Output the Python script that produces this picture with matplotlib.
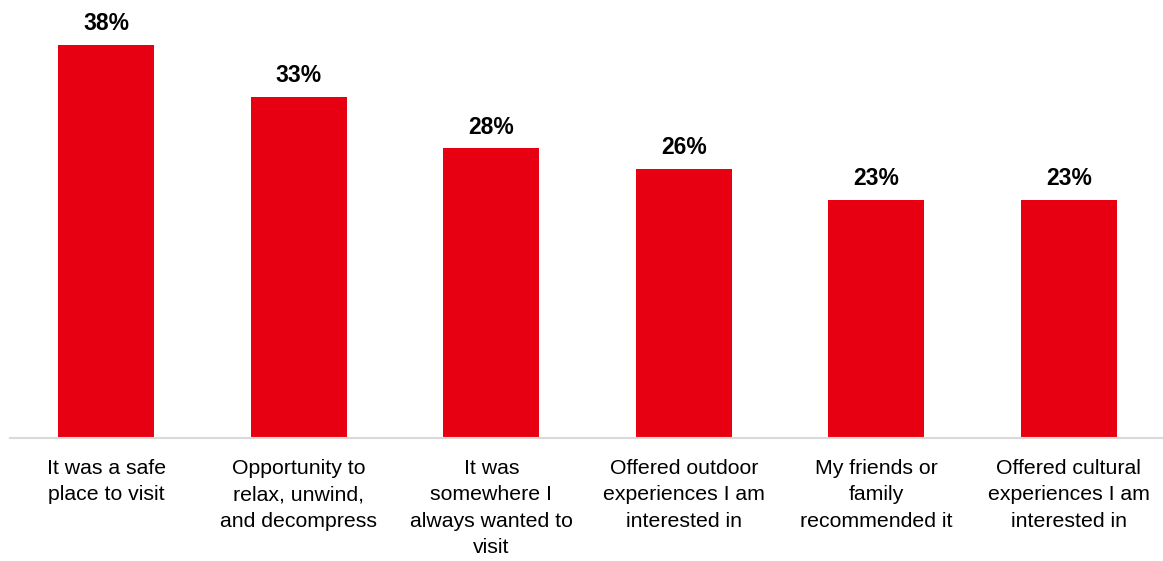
import matplotlib.pyplot as plt

plt.rcParams['font.family'] = ['Liberation Sans', 'DejaVu Sans']

categories = [
    "It was a safe\nplace to visit",
    "Opportunity to\nrelax, unwind,\nand decompress",
    "It was\nsomewhere I\nalways wanted to\nvisit",
    "Offered outdoor\nexperiences I am\ninterested in",
    "My friends or\nfamily\nrecommended it",
    "Offered cultural\nexperiences I am\ninterested in",
]
values = [38, 33, 28, 26, 23, 23]

fig = plt.figure(figsize=(11.63, 5.61), dpi=100)
ax = fig.add_axes([10 / 1163, 123 / 561, 1155 / 1163, 413.6 / 561])

x = range(len(values))
bars = ax.bar(x, values, width=0.5, color="#E60012")

for b, v in zip(bars, values):
    ax.annotate(f"{v}%", (b.get_x() + b.get_width() / 2, v),
                xytext=(0, 7), textcoords="offset points",
                ha="center", va="bottom", fontsize=16.5, fontweight="bold")

ax.set_xlim(-0.5, 5.5)
ax.set_ylim(0, 40)
ax.set_xticks(list(x))
ax.set_xticklabels(categories, fontsize=15.3, linespacing=1.5)
ax.tick_params(axis="x", length=0, pad=15)
ax.set_yticks([])
for s in ["top", "right", "left"]:
    ax.spines[s].set_visible(False)
ax.spines["bottom"].set_color("#D9D9D9")
ax.spines["bottom"].set_linewidth(1.5)

fig.savefig("out.png", dpi=100)
